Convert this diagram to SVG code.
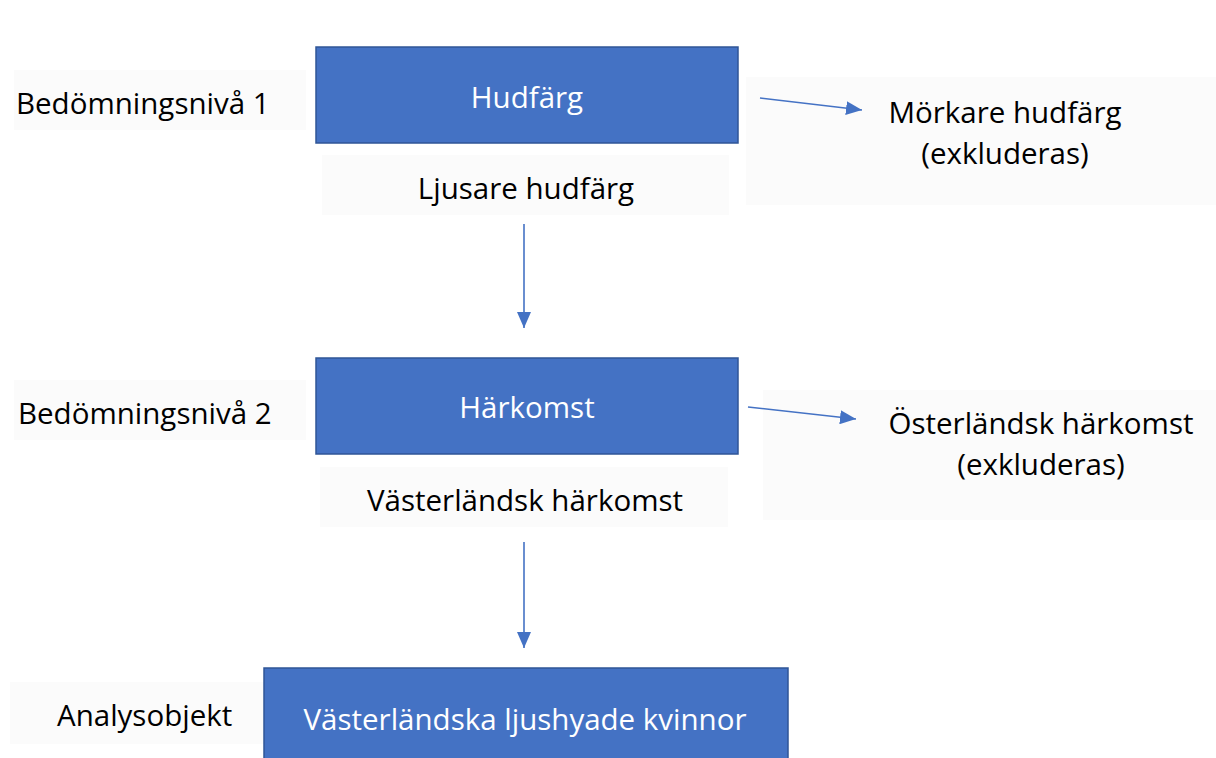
<svg xmlns="http://www.w3.org/2000/svg" width="1216" height="758" viewBox="0 0 1216 758">
<style>
.bg{fill:#fbfbfb}
.box{fill:#4472c4;stroke:#2f5597;stroke-width:1.5}
.t{font-family:"Open Sans","Noto Sans","Liberation Sans",sans-serif;font-size:29.5px;fill:#000}
.w{fill:#fff;text-anchor:middle}
.c{text-anchor:middle}
.a{stroke:#4472c4;stroke-width:1.6;fill:none;marker-end:url(#ah)}
</style>
<defs>
<marker id="ah" viewBox="0 0 16 14" refX="16" refY="7" markerWidth="16" markerHeight="14" markerUnits="userSpaceOnUse" orient="auto">
<path d="M0,0 L16,7 L0,14 Z" fill="#4472c4"/>
</marker>
</defs>
<rect width="1216" height="758" fill="#fff"/>
<g id="label-level1"><rect class="bg" x="14" y="70" width="292" height="60"/><text class="t" x="16" y="114">Bedömningsnivå 1</text></g>
<g id="node-hudfarg"><rect class="box" x="316" y="47" width="422" height="96"/><text class="t w" x="527" y="108">Hudfärg</text></g>
<g id="label-ljusare"><rect class="bg" x="322" y="155" width="407" height="60"/><text class="t c" x="526" y="199">Ljusare hudfärg</text></g>
<g id="node-morkare"><rect class="bg" x="746" y="77" width="470" height="128"/><text class="t c" x="1005" y="123">Mörkare hudfärg</text><text class="t c" x="1005" y="164">(exkluderas)</text></g>
<g id="label-level2"><rect class="bg" x="14" y="380" width="292" height="60"/><text class="t" x="18" y="424">Bedömningsnivå 2</text></g>
<g id="node-harkomst"><rect class="box" x="316" y="358" width="422" height="96"/><text class="t w" x="527" y="418">Härkomst</text></g>
<g id="label-vasterlandsk"><rect class="bg" x="320" y="467" width="408" height="60"/><text class="t c" x="525" y="511">Västerländsk härkomst</text></g>
<g id="node-osterlandsk"><rect class="bg" x="763" y="390" width="453" height="130"/><text class="t c" x="1041" y="434">Österländsk härkomst</text><text class="t c" x="1041" y="475">(exkluderas)</text></g>
<g id="label-analys"><rect class="bg" x="10" y="682" width="254" height="62"/><text class="t" x="57" y="726">Analysobjekt</text></g>
<g id="node-result"><rect class="box" x="264" y="668" width="524" height="96"/><text class="t w" x="525" y="730">Västerländska ljushyade kvinnor</text></g>
<g id="connectors">
<line class="a" x1="760" y1="98" x2="862" y2="110"/>
<line class="a" x1="524" y1="224" x2="524" y2="328"/>
<line class="a" x1="748" y1="407" x2="856" y2="419"/>
<line class="a" x1="524" y1="542" x2="524" y2="648"/>
</g>
</svg>
